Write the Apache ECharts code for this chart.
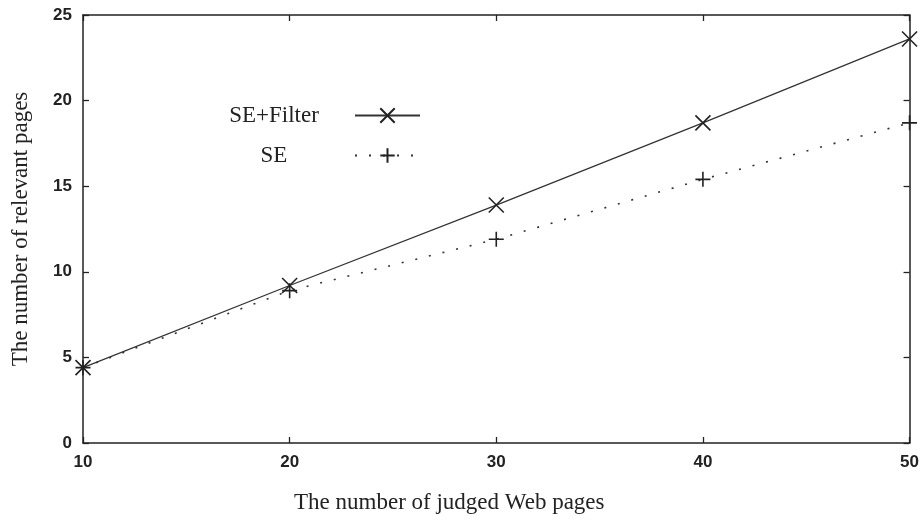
<!DOCTYPE html>
<html><head><meta charset="utf-8">
<script src="https://cdn.jsdelivr.net/npm/echarts@6/dist/echarts.min.js"></script>
<style>html,body{margin:0;padding:0;background:#fff}#c{width:922px;height:524px}</style>
</head><body><div id="c"></div>
<script>
const judgedPages = [10, 20, 30, 40, 50];
const seFilter = [4.4, 9.2, 13.9, 18.7, 23.6];
const se = [4.4, 8.9, 11.9, 15.4, 18.7];
const seriesNames = ['SE+Filter', 'SE'];
const xTitle = 'The number of judged Web pages';
const yTitle = 'The number of relevant pages';

const ink = '#222';
const labelFont = { fontFamily: 'Liberation Sans', fontWeight: 'bold', fontSize: 17, color: ink };
const serif = 'Liberation Serif';

const chart = echarts.init(document.getElementById('c'), null, { renderer: 'canvas' });

function axisBase(extra) {
  return Object.assign({
    type: 'value',
    axisLine: { show: true, onZero: false, lineStyle: { color: ink, width: 1.5 } },
    axisTick: { show: true, inside: true, length: 6, lineStyle: { color: ink, width: 1.3 } },
    splitLine: { show: false },
    splitArea: { show: false }
  }, extra);
}

const option = {
  backgroundColor: '#fff',
  animation: false,
  grid: { left: 83, right: 11, top: 15, bottom: 81, containLabel: false },
  legend: {
    data: seriesNames,
    orient: 'vertical',
    align: 'right',
    left: 198,
    top: 104,
    padding: 0,
    itemGap: 17,
    itemWidth: 65,
    itemHeight: 18,
    selectedMode: false,
    formatter: function (name) { return '{c|' + name + '}'; },
    textStyle: {
      rich: {
        c: { width: 152, align: 'center', fontFamily: serif, fontSize: 23, lineHeight: 26, color: ink }
      }
    }
  },
  xAxis: [
    axisBase({
      min: 10, max: 50, interval: 10, position: 'bottom',
      axisLabel: Object.assign({ margin: 11 }, labelFont),
      name: xTitle,
      nameLocation: 'middle',
      nameGap: 48,
      nameTextStyle: { fontFamily: serif, fontSize: 23, color: ink, padding: [0, 94, 0, 0] }
    }),
    axisBase({
      min: 10, max: 50, interval: 10, position: 'top',
      axisLabel: { show: false }
    })
  ],
  yAxis: [
    axisBase({
      min: 0, max: 25, interval: 5, position: 'left',
      axisLabel: Object.assign({ margin: 11 }, labelFont),
      name: yTitle,
      nameLocation: 'middle',
      nameGap: 51,
      nameRotate: 90,
      nameTextStyle: { fontFamily: serif, fontSize: 23, color: ink }
    }),
    axisBase({
      min: 0, max: 25, interval: 5, position: 'right',
      axisLabel: { show: false }
    })
  ],
  series: [
    {
      name: seriesNames[0],
      type: 'line',
      data: judgedPages.map((x, i) => [x, seFilter[i]]),
      clip: false,
      symbol: 'path://M0,0L10,10M0,10L10,0',
      symbolSize: 15,
      showAllSymbol: true,
      lineStyle: { color: '#333', width: 1.3, type: 'solid' },
      itemStyle: { color: ink, borderColor: ink, borderWidth: 1.6 },
      emphasis: { disabled: true }
    },
    {
      name: seriesNames[1],
      type: 'line',
      data: judgedPages.map((x, i) => [x, se[i]]),
      clip: false,
      symbol: 'path://M5,0L5,10M0,5L10,5',
      symbolSize: 15,
      showAllSymbol: true,
      lineStyle: { color: '#333', width: 1.6, type: [2, 12] },
      itemStyle: { color: ink, borderColor: ink, borderWidth: 1.6 },
      emphasis: { disabled: true }
    }
  ]
};
chart.setOption(option);
</script>
</body></html>
